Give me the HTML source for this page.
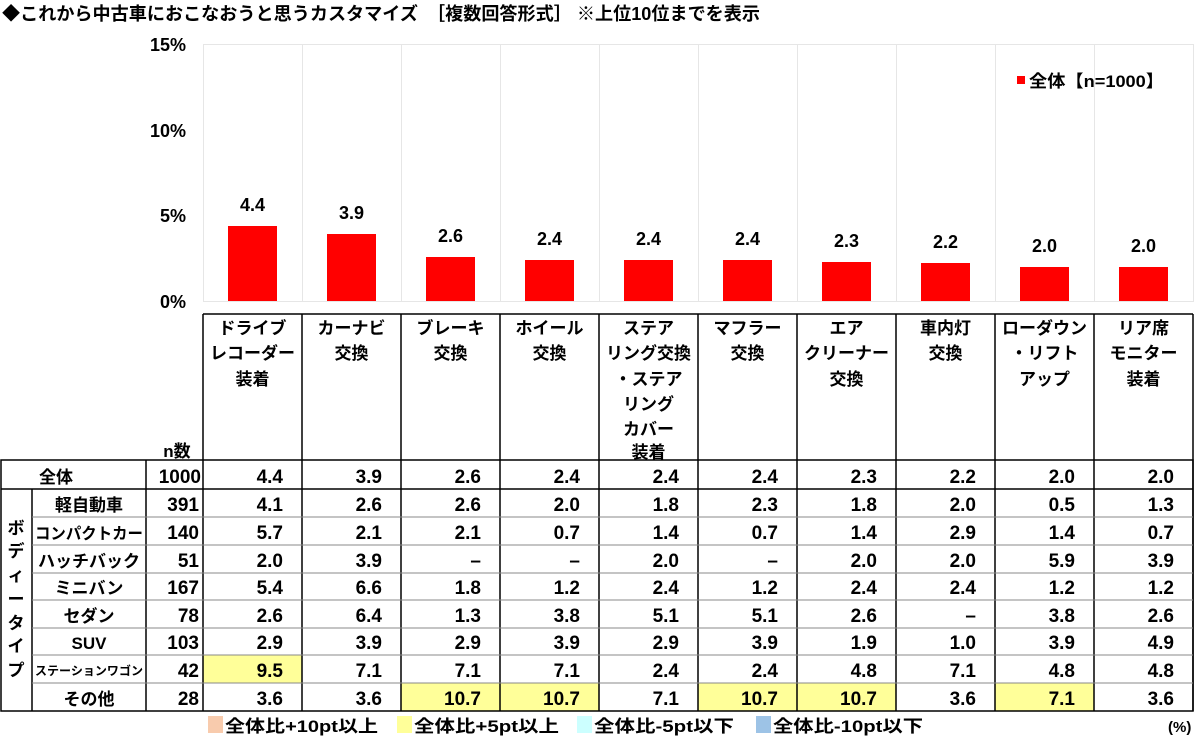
<!DOCTYPE html>
<html><head><meta charset="utf-8"><style>
html,body{margin:0;padding:0;background:#fff;}
svg{display:block;font-family:"Liberation Sans","Noto Sans CJK JP",sans-serif;font-weight:bold;}
</style></head><body>
<svg width="1200" height="740" viewBox="0 0 1200 740" xmlns="http://www.w3.org/2000/svg">
<text x="2" y="20" font-size="18" fill="#000" textLength="758" lengthAdjust="spacingAndGlyphs">◆これから中古車におこなおうと思うカスタマイズ　［複数回答形式］ ※上位10位までを表示</text>
<g font-size="18" text-anchor="end" fill="#000">
<text x="186" y="51">15%</text><text x="186" y="137">10%</text><text x="186" y="222">5%</text><text x="186" y="308">0%</text>
</g>
<g stroke="#e6e6e6" stroke-width="1">
<line x1="203.5" y1="44" x2="203.5" y2="301"/><line x1="302.5" y1="44" x2="302.5" y2="301"/><line x1="401.5" y1="44" x2="401.5" y2="301"/><line x1="500.5" y1="44" x2="500.5" y2="301"/><line x1="599.5" y1="44" x2="599.5" y2="301"/><line x1="698.5" y1="44" x2="698.5" y2="301"/><line x1="797.5" y1="44" x2="797.5" y2="301"/><line x1="896.5" y1="44" x2="896.5" y2="301"/><line x1="995.5" y1="44" x2="995.5" y2="301"/><line x1="1094.5" y1="44" x2="1094.5" y2="301"/><line x1="1193.5" y1="44" x2="1193.5" y2="301"/>
<line x1="203" y1="44.5" x2="1194" y2="44.5"/><line x1="203" y1="301.5" x2="1194" y2="301.5"/>
</g>
<g fill="#ff0000">
<rect x="228" y="226" width="49" height="75"/>
<rect x="327" y="234" width="49" height="67"/>
<rect x="426" y="257" width="49" height="44"/>
<rect x="525" y="260" width="49" height="41"/>
<rect x="624" y="260" width="49" height="41"/>
<rect x="723" y="260" width="49" height="41"/>
<rect x="822" y="262" width="49" height="39"/>
<rect x="921" y="263" width="49" height="38"/>
<rect x="1020" y="267" width="49" height="34"/>
<rect x="1119" y="267" width="49" height="34"/>
</g>
<g font-size="18" text-anchor="middle" fill="#000">
<text x="252.5" y="211">4.4</text><text x="351.5" y="219">3.9</text><text x="450.5" y="242">2.6</text><text x="549.5" y="245">2.4</text><text x="648.5" y="245">2.4</text><text x="747.5" y="245">2.4</text><text x="846.5" y="247">2.3</text><text x="945.5" y="248">2.2</text><text x="1044.5" y="252">2.0</text><text x="1143.5" y="252">2.0</text>
</g>
<rect x="1017" y="76" width="8" height="8" fill="#ff0000"/>
<text x="1029" y="87" font-size="17" textLength="135" lengthAdjust="spacingAndGlyphs">全体【n=1000】</text>
<g fill="#ffff99">
<rect x="203" y="655" width="99" height="28"/>
<rect x="401" y="683" width="198" height="28"/>
<rect x="698" y="683" width="198" height="28"/>
<rect x="995" y="683" width="99" height="28"/>
</g>
<g stroke="#000" stroke-width="1.5" fill="none">
<rect x="1" y="460" width="1192" height="251"/>
<line x1="203" y1="314" x2="1193" y2="314"/>
<line x1="203" y1="314" x2="203" y2="711"/><line x1="302" y1="314" x2="302" y2="711"/><line x1="401" y1="314" x2="401" y2="711"/><line x1="500" y1="314" x2="500" y2="711"/><line x1="599" y1="314" x2="599" y2="711"/><line x1="698" y1="314" x2="698" y2="711"/><line x1="797" y1="314" x2="797" y2="711"/><line x1="896" y1="314" x2="896" y2="711"/><line x1="995" y1="314" x2="995" y2="711"/><line x1="1094" y1="314" x2="1094" y2="711"/><line x1="1193" y1="314" x2="1193" y2="711"/>
<line x1="146" y1="460" x2="146" y2="711"/>
<line x1="32" y1="489" x2="32" y2="711"/>
<line x1="1" y1="489" x2="1193" y2="489"/>
</g>
<g stroke="#888" stroke-width="1">
<line x1="32" y1="517" x2="1193" y2="517"/><line x1="32" y1="545" x2="1193" y2="545"/><line x1="32" y1="573" x2="1193" y2="573"/><line x1="32" y1="600" x2="1193" y2="600"/><line x1="32" y1="628" x2="1193" y2="628"/><line x1="32" y1="655" x2="1193" y2="655"/><line x1="32" y1="683" x2="1193" y2="683"/>
</g>
<g font-size="17" text-anchor="middle" fill="#000">
<text x="252.5" y="334">ドライブ</text><text x="252.5" y="359">レコーダー</text><text x="252.5" y="385">装着</text>
<text x="351.5" y="334">カーナビ</text><text x="351.5" y="359">交換</text>
<text x="450.5" y="334">ブレーキ</text><text x="450.5" y="359">交換</text>
<text x="549.5" y="334">ホイール</text><text x="549.5" y="359">交換</text>
<text x="648.5" y="334">ステア</text><text x="648.5" y="359">リング交換</text><text x="648.5" y="385">・ステア</text><text x="648.5" y="410">リング</text><text x="648.5" y="435">カバー</text><text x="648.5" y="458">装着</text>
<text x="747.5" y="334">マフラー</text><text x="747.5" y="359">交換</text>
<text x="846.5" y="334">エア</text><text x="846.5" y="359">クリーナー</text><text x="846.5" y="385">交換</text>
<text x="945.5" y="334">車内灯</text><text x="945.5" y="359">交換</text>
<text x="1044.5" y="334">ローダウン</text><text x="1044.5" y="359">・リフト</text><text x="1044.5" y="385">アップ</text>
<text x="1143.5" y="334">リア席</text><text x="1143.5" y="359">モニター</text><text x="1143.5" y="385">装着</text>
<text x="177" y="457">n数</text>
<text x="56" y="483">全体</text>
<text x="89" y="511">軽自動車</text>
<text x="89" y="539" font-size="16" textLength="108" lengthAdjust="spacingAndGlyphs">コンパクトカー</text>
<text x="89" y="567">ハッチバック</text>
<text x="89" y="594">ミニバン</text>
<text x="89" y="622">セダン</text>
<text x="89" y="649">SUV</text>
<text x="89" y="675" font-size="12" textLength="108" lengthAdjust="spacingAndGlyphs">ステーションワゴン</text>
<text x="89" y="705">その他</text>
<text x="16" y="534">ボ</text><text x="16" y="557">デ</text><text x="16" y="581">ィ</text><text x="16" y="605">ー</text><text x="16" y="629">タ</text><text x="16" y="652">イ</text><text x="16" y="676">プ</text>
</g>
<g font-size="19" text-anchor="end" fill="#000">
<text x="201" y="483">1000</text><text x="199" y="511">391</text><text x="199" y="539">140</text><text x="199" y="567">51</text><text x="199" y="594">167</text><text x="199" y="622">78</text><text x="199" y="649">103</text><text x="199" y="677">42</text><text x="199" y="705">28</text>
</g>
<g font-size="19" text-anchor="end" fill="#000">
<g transform="translate(0,483)"><text x="283">4.4</text><text x="382">3.9</text><text x="481">2.6</text><text x="580">2.4</text><text x="679">2.4</text><text x="778">2.4</text><text x="877">2.3</text><text x="976">2.2</text><text x="1075">2.0</text><text x="1174">2.0</text></g>
<g transform="translate(0,511)"><text x="283">4.1</text><text x="382">2.6</text><text x="481">2.6</text><text x="580">2.0</text><text x="679">1.8</text><text x="778">2.3</text><text x="877">1.8</text><text x="976">2.0</text><text x="1075">0.5</text><text x="1174">1.3</text></g>
<g transform="translate(0,539)"><text x="283">5.7</text><text x="382">2.1</text><text x="481">2.1</text><text x="580">0.7</text><text x="679">1.4</text><text x="778">0.7</text><text x="877">1.4</text><text x="976">2.9</text><text x="1075">1.4</text><text x="1174">0.7</text></g>
<g transform="translate(0,567)"><text x="283">2.0</text><text x="382">3.9</text><text x="481">–</text><text x="580">–</text><text x="679">2.0</text><text x="778">–</text><text x="877">2.0</text><text x="976">2.0</text><text x="1075">5.9</text><text x="1174">3.9</text></g>
<g transform="translate(0,594)"><text x="283">5.4</text><text x="382">6.6</text><text x="481">1.8</text><text x="580">1.2</text><text x="679">2.4</text><text x="778">1.2</text><text x="877">2.4</text><text x="976">2.4</text><text x="1075">1.2</text><text x="1174">1.2</text></g>
<g transform="translate(0,622)"><text x="283">2.6</text><text x="382">6.4</text><text x="481">1.3</text><text x="580">3.8</text><text x="679">5.1</text><text x="778">5.1</text><text x="877">2.6</text><text x="976">–</text><text x="1075">3.8</text><text x="1174">2.6</text></g>
<g transform="translate(0,649)"><text x="283">2.9</text><text x="382">3.9</text><text x="481">2.9</text><text x="580">3.9</text><text x="679">2.9</text><text x="778">3.9</text><text x="877">1.9</text><text x="976">1.0</text><text x="1075">3.9</text><text x="1174">4.9</text></g>
<g transform="translate(0,677)"><text x="283">9.5</text><text x="382">7.1</text><text x="481">7.1</text><text x="580">7.1</text><text x="679">2.4</text><text x="778">2.4</text><text x="877">4.8</text><text x="976">7.1</text><text x="1075">4.8</text><text x="1174">4.8</text></g>
<g transform="translate(0,705)"><text x="283">3.6</text><text x="382">3.6</text><text x="481">10.7</text><text x="580">10.7</text><text x="679">7.1</text><text x="778">10.7</text><text x="877">10.7</text><text x="976">3.6</text><text x="1075">7.1</text><text x="1174">3.6</text></g>
</g>
<rect x="208" y="716" width="15" height="17" fill="#f8cbad"/>
<text x="225" y="732" font-size="17" textLength="153" lengthAdjust="spacingAndGlyphs">全体比+10pt以上</text>
<rect x="397" y="716" width="15" height="17" fill="#ffff99"/>
<text x="414" y="732" font-size="17" textLength="145" lengthAdjust="spacingAndGlyphs">全体比+5pt以上</text>
<rect x="577" y="716" width="15" height="17" fill="#ccffff"/>
<text x="594" y="732" font-size="17" textLength="140" lengthAdjust="spacingAndGlyphs">全体比-5pt以下</text>
<rect x="756" y="716" width="15" height="17" fill="#9dc3e6"/>
<text x="773" y="732" font-size="17" textLength="150" lengthAdjust="spacingAndGlyphs">全体比-10pt以下</text>
<text x="1168" y="732" font-size="15">(%)</text>
</svg>
</body></html>
